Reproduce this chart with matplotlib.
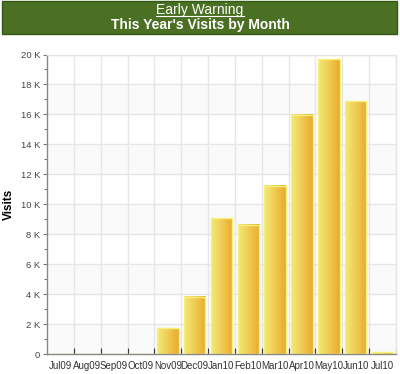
import numpy as np
import matplotlib
matplotlib.use("Agg")
import matplotlib.pyplot as plt
from matplotlib.colors import LinearSegmentedColormap
from matplotlib.patches import Rectangle
from matplotlib.lines import Line2D
from matplotlib.ticker import MultipleLocator, FuncFormatter

# --- Data ---
months = ["Jul09", "Aug09", "Sep09", "Oct09", "Nov09", "Dec09", "Jan10",
          "Feb10", "Mar10", "Apr10", "May10", "Jun10", "Jul10"]
visits = [0, 0, 0, 0, 1730, 3820, 9050, 8640, 11220, 15980, 19690, 16870, 110]

plt.rcParams["font.family"] = ["Liberation Sans", "DejaVu Sans"]

fig = plt.figure(figsize=(4.0, 3.74), dpi=100)

# --- Banner ---
fig.patches.append(Rectangle((2 / 400, 1 - 34 / 374), 395 / 400, 33 / 374,
                             transform=fig.transFigure, facecolor="#4b7023",
                             edgecolor="#2f5a12", lw=1.0))
t1 = fig.text(0.5, 1 - 10 / 374, "Early Warning", ha="center", va="center",
              color="white", fontsize=10)
fig.text(0.5, 1 - 25 / 374, "This Year's Visits by Month", ha="center",
         va="center", color="white", fontsize=10, fontweight="bold")

# --- Axes ---
ax = fig.add_axes([47 / 400, 20 / 374, 349 / 400, 299.5 / 374])
ax.set_facecolor("white")

# alternating light bands
for lo in range(0, 20000, 4000):
    ax.axhspan(lo, lo + 2000, color="#fafafa", lw=0, zorder=0)

cmap = LinearSegmentedColormap.from_list("gold", ["#f3ea78", "#efcb52", "#e8aa2e"])
grad = np.linspace(0, 1, 64).reshape(1, -1)
x = np.arange(len(months))
w = 0.8
for xi, v in zip(x, visits):
    if v <= 0:
        continue
    ax.imshow(grad, extent=(xi - w / 2, xi + w / 2, 0, v), aspect="auto",
              cmap=cmap, zorder=2, interpolation="bilinear")
ax.bar(x, visits, width=w, facecolor="none", edgecolor="#f7f07a", lw=1.0, zorder=3)

ax.set_xlim(-0.5, len(months) - 0.5)
ax.set_ylim(0, 20000)

ax.yaxis.set_major_locator(MultipleLocator(2000))
ax.yaxis.set_minor_locator(MultipleLocator(1000))
ax.yaxis.set_major_formatter(FuncFormatter(lambda v, p: "0" if v == 0 else f"{int(v / 1000)} K"))
ax.set_xticks(x)
ax.set_xticklabels(months)
ax.set_xticks(np.arange(len(months)) + 0.5, minor=True)

ax.tick_params(axis="y", which="major", direction="out", length=3, width=0.8,
               color="#777777", labelsize=6.8, labelcolor="#444444", pad=2)
ax.tick_params(axis="y", which="minor", direction="out", length=2, width=0.8, color="#777777")
ax.tick_params(axis="x", which="major", length=0, labelsize=7, labelcolor="#333333", pad=5)
ax.tick_params(axis="x", which="minor", direction="in", length=4, width=0.8, color="#333333")

ax.grid(True, axis="y", which="major", color="#e6e6e6", lw=1.0, zorder=1)
ax.grid(True, axis="x", which="minor", color="#e6e6e6", lw=1.0, zorder=1)
ax.set_axisbelow(True)

for side in ["top", "right"]:
    ax.spines[side].set_color("#e6e6e6")
    ax.spines[side].set_linewidth(1.0)
for side in ["left", "bottom"]:
    ax.spines[side].set_color("#888888")
    ax.spines[side].set_linewidth(1.0)

ax.set_ylabel("Visits", fontsize=8.5, fontweight="bold", labelpad=4)

# underline the link-style heading
fig.canvas.draw()
bb = t1.get_window_extent().transformed(fig.transFigure.inverted())
fig.lines.append(Line2D([bb.x0, bb.x1], [bb.y0 + 0.003, bb.y0 + 0.003],
                        transform=fig.transFigure, color="white", lw=0.8))

fig.savefig("out.png", dpi=100)
